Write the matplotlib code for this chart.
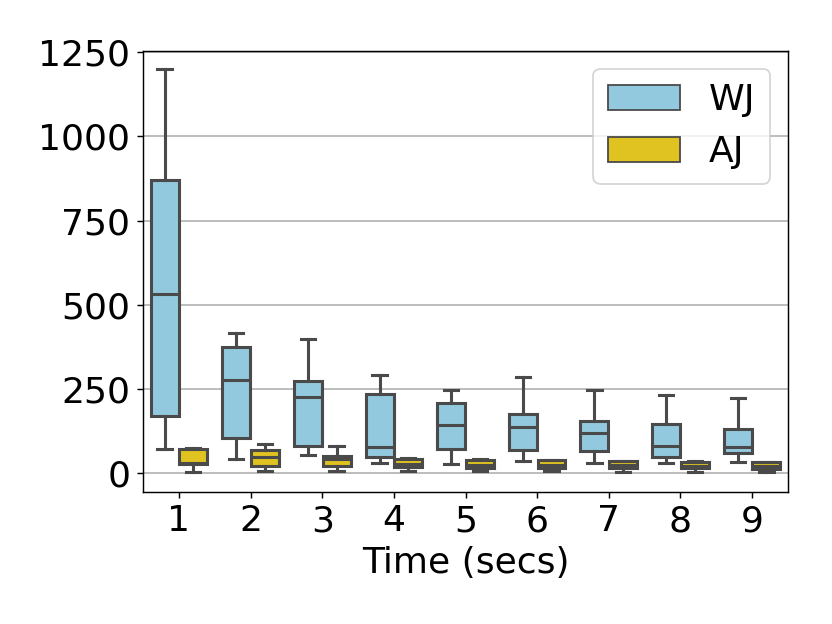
import numpy as np
import matplotlib
matplotlib.use("Agg")
import matplotlib.pyplot as plt
from matplotlib.patches import Patch

# box stats: whislo, q1, med, q3, whishi
times = ["1", "2", "3", "4", "5", "6", "7", "8", "9"]
wj_whislo = [71, 43, 54, 30, 27, 35, 31, 30, 34]
wj_q1 = [170, 104, 80, 48, 72, 70, 66, 49, 60]
wj_med = [531, 277, 226, 78, 143, 136, 118, 81, 79]
wj_q3 = [872, 374, 275, 235, 207, 175, 156, 147, 130]
wj_whishi = [1200, 417, 397, 293, 246, 287, 246, 231, 224]

aj_whislo = [5, 7, 7, 7, 7, 6, 3, 3, 3]
aj_q1 = [27, 20, 20, 19, 15, 16, 14, 14, 12]
aj_med = [30, 48, 41, 28, 25, 25, 23, 22, 21]
aj_q3 = [71, 68, 52, 42, 39, 39, 36, 33, 32]
aj_whishi = [74, 88, 80, 46, 42, 40, 37, 35, 33]

WJ_COLOR = "#93c9df"
AJ_COLOR = "#e0c220"
LINE = "#4a4a4a"


def make_stats(lo, q1, med, q3, hi):
    return [dict(whislo=a, q1=b, med=c, q3=d, whishi=e, fliers=[])
            for a, b, c, d, e in zip(lo, q1, med, q3, hi)]


fig = plt.figure(figsize=(6.4, 4.8), dpi=130)
ax = fig.add_axes([0.172, 0.212, 0.775, 0.707])

pos = np.arange(len(times))
lw = 1.7
for stats, offset, color in [
    (make_stats(wj_whislo, wj_q1, wj_med, wj_q3, wj_whishi), -0.2, WJ_COLOR),
    (make_stats(aj_whislo, aj_q1, aj_med, aj_q3, aj_whishi), 0.2, AJ_COLOR),
]:
    ax.bxp(stats, positions=pos + offset, widths=0.39, patch_artist=True,
           showfliers=False,
           boxprops=dict(facecolor=color, edgecolor=LINE, linewidth=lw),
           medianprops=dict(color=LINE, linewidth=lw),
           whiskerprops=dict(color=LINE, linewidth=lw),
           capprops=dict(color=LINE, linewidth=lw),
           capwidths=0.2, zorder=3)

ax.set_xlim(-0.5, len(times) - 0.5)
ax.set_ylim(-55, 1255)
ax.set_xticks(pos)
ax.set_xticklabels(times)
ax.set_yticks([0, 250, 500, 750, 1000, 1250])
ax.tick_params(labelsize=20)
ax.yaxis.grid(True, color="#b0b0b0", linewidth=0.9)
ax.set_axisbelow(True)
ax.set_xlabel("Time (secs)", fontsize=20)

handles = [Patch(facecolor=WJ_COLOR, edgecolor=LINE, label="WJ"),
           Patch(facecolor=AJ_COLOR, edgecolor=LINE, label="AJ")]
ax.legend(handles=handles, loc="upper right", fontsize=20)

fig.savefig("out.png", dpi=130)
